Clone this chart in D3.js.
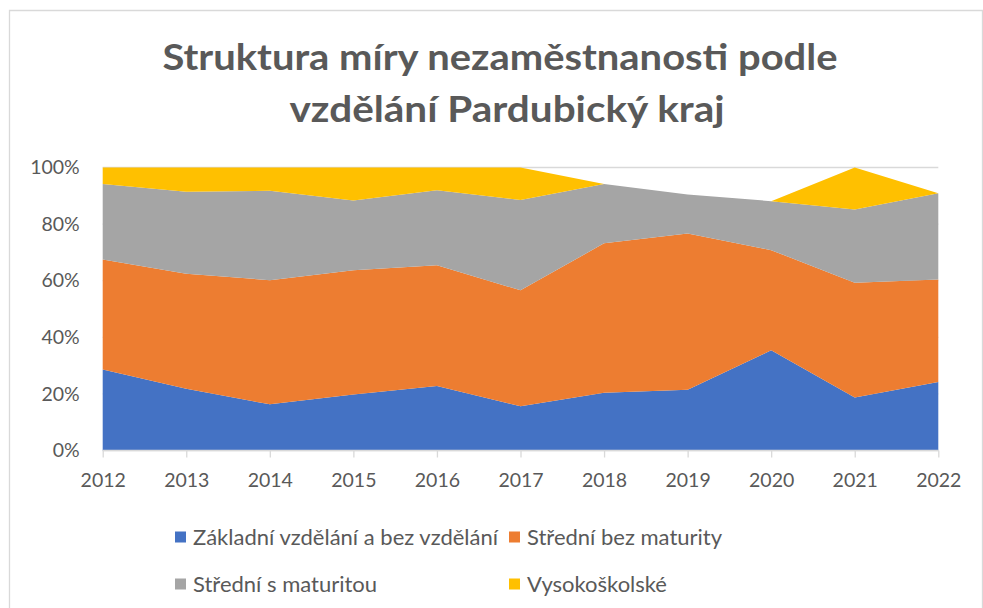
<!DOCTYPE html>
<html>
<head>
<meta charset="utf-8">
<script src="https://cdn.jsdelivr.net/npm/d3@7"></script>
<style>
  body { margin: 0; background: #fff; }
  svg { display: block; font-family: Lato, "Open Sans", sans-serif; }
  .axis text { fill: #595959; }
  .axis .domain { display: none; }
</style>
</head>
<body>
<svg id="chart" width="983" height="608"></svg>
<script>
// chart data (shares, %)
var years = ["2012", "2013", "2014", "2015", "2016", "2017", "2018", "2019", "2020", "2021", "2022"];
var seriesNames = ["Základní vzdělání a bez vzdělání", "Střední bez maturity", "Střední s maturitou", "Vysokoškolské"];
var zakladni   = [28.6, 21.8, 16.3, 19.8, 22.8, 15.6, 20.4, 21.5, 35.4, 18.7, 24.2];
var stredniBez = [38.9, 40.7, 43.9, 43.9, 42.7, 41.0, 52.8, 55.2, 35.4, 40.6, 36.2];
var stredniS   = [26.7, 28.9, 31.6, 24.6, 26.5, 31.9, 21.0, 13.8, 17.3, 25.9, 30.5];
var vysoko     = [5.8, 8.6, 8.2, 11.7, 8.0, 11.5, 0, 0, 0, 14.8, 0];
var yTicks = [0, 20, 40, 60, 80, 100];
var colors = ["#4472C4", "#ED7D31", "#A5A5A5", "#FFC000"];

var table = years.map(function(y, i) {
    var row = { year: y };
    row[seriesNames[0]] = zakladni[i];
    row[seriesNames[1]] = stredniBez[i];
    row[seriesNames[2]] = stredniS[i];
    row[seriesNames[3]] = vysoko[i];
    return row;
});

var svg = d3.select("#chart");
var plotLeft = 102.7, plotRight = 938.3, plotTop = 167.5, plotBottom = 450.5;

// chart border (Excel frame)
svg.append("path")
    .attr("d", "M9.5,608 V10.5 H982.5 V608")
    .attr("fill", "none")
    .attr("stroke", "#d9d9d9")
    .attr("stroke-width", 1.3);

// title
var title = svg.append("text")
    .attr("text-anchor", "middle")
    .attr("fill", "#595959")
    .attr("font-weight", "bold")
    .attr("font-size", "37px");
title.append("tspan").attr("x", 500).attr("y", 70)
    .attr("textLength", 675).attr("lengthAdjust", "spacingAndGlyphs")
    .text("Struktura míry nezaměstnanosti podle");
title.append("tspan").attr("x", 507).attr("y", 122)
    .attr("textLength", 435).attr("lengthAdjust", "spacingAndGlyphs")
    .text("vzdělání Pardubický kraj");

var x = d3.scalePoint().domain(years).range([plotLeft, plotRight]);
var y = d3.scaleLinear().domain([0, 100]).range([plotBottom, plotTop]);

// gridlines
svg.append("g")
    .selectAll("line")
    .data(yTicks)
    .join("line")
    .attr("x1", plotLeft).attr("x2", plotRight)
    .attr("y1", function(d) { return y(d); })
    .attr("y2", function(d) { return y(d); })
    .attr("stroke", "#d9d9d9")
    .attr("stroke-width", 1.3);

var stack = d3.stack().keys(seriesNames);
var layers = stack(table);

var area = d3.area()
    .x(function(d) { return x(d.data.year); })
    .y0(function(d) { return y(d[0]); })
    .y1(function(d) { return y(d[1]); });

svg.append("g")
    .selectAll("path")
    .data(layers)
    .join("path")
    .attr("d", area)
    .attr("fill", function(d, i) { return colors[i]; });

// x axis line + ticks
svg.append("line")
    .attr("x1", plotLeft).attr("x2", plotRight)
    .attr("y1", plotBottom).attr("y2", plotBottom)
    .attr("stroke", "#d9d9d9")
    .attr("stroke-width", 1.3);

var xAxis = d3.axisBottom(x).tickSize(7).tickPadding(16);
var gx = svg.append("g")
    .attr("class", "axis")
    .attr("transform", "translate(0," + plotBottom + ")")
    .call(xAxis);
gx.selectAll(".tick line").attr("stroke", "#d9d9d9").attr("stroke-width", 1.3);
gx.selectAll("text").attr("font-size", "19.5px").attr("font-family", "Lato");

var yAxis = d3.axisLeft(y).tickValues(yTicks).tickSize(0).tickPadding(23)
    .tickFormat(function(d) { return d + "%"; });
var gy = svg.append("g")
    .attr("class", "axis")
    .attr("transform", "translate(" + plotLeft + ",0)")
    .call(yAxis);
gy.selectAll("text").attr("font-size", "19.5px").attr("font-family", "Lato");

// legend
var legendPos = [
    { x: 175, y: 537 },
    { x: 509, y: 537 },
    { x: 175, y: 584 },
    { x: 509, y: 584 }
];
var legend = svg.append("g")
    .selectAll("g")
    .data(seriesNames)
    .join("g")
    .attr("transform", function(d, i) { return "translate(" + legendPos[i].x + "," + legendPos[i].y + ")"; });
legend.append("rect")
    .attr("x", 0).attr("y", -5.5)
    .attr("width", 11).attr("height", 11)
    .attr("fill", function(d, i) { return colors[i]; });
legend.append("text")
    .attr("x", 18).attr("y", 7.5)
    .attr("fill", "#595959")
    .attr("font-size", "22px")
    .text(function(d) { return d; });
</script>
</body>
</html>
